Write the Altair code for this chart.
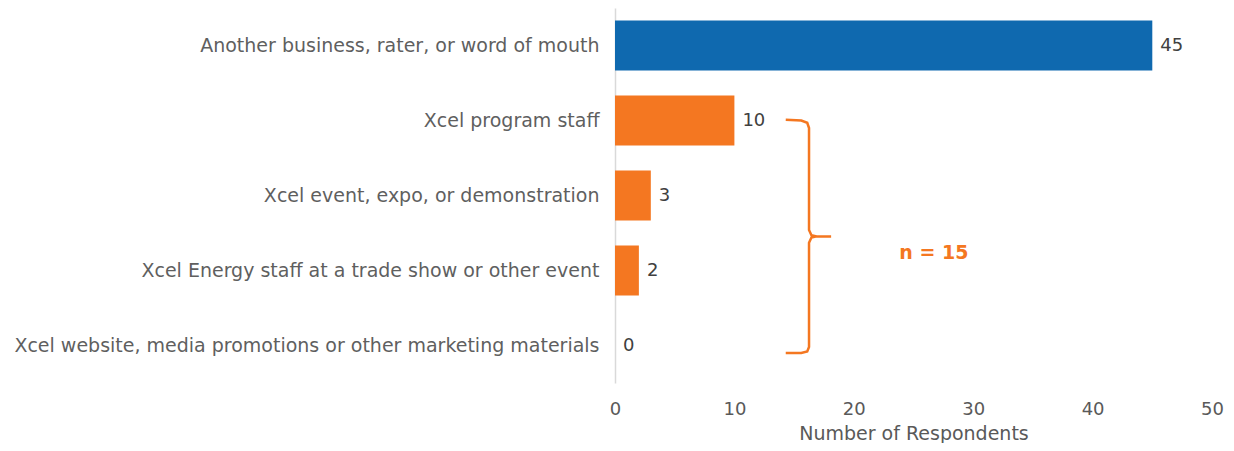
import altair as alt
import pandas as pd

categories = [
    "Another business, rater, or word of mouth",
    "Xcel program staff",
    "Xcel event, expo, or demonstration",
    "Xcel Energy staff at a trade show or other event",
    "Xcel website, media promotions or other marketing materials",
]
values = [45, 10, 3, 2, 0]
groups = ["other", "xcel", "xcel", "xcel", "xcel"]

# bracket annotation path (x in respondents, y in category rank units)
brace_x = [14.3, 15.6, 16.1, 16.25, 16.25, 16.45, 16.9, 18.1, 16.9, 16.45, 16.25, 16.25, 16.1, 15.6, 14.3]
brace_y = [1.99, 2.0, 2.03, 2.1, 3.46, 3.53, 3.545, 3.545, 3.545, 3.56, 3.63, 5.02, 5.08, 5.1, 5.1]
note_text = ["n = 15"]
note_x = [26.7]
note_y = [3.76]

BLUE = "#0F69AF"
ORANGE = "#F47721"
FONT = "DejaVu Sans"

df = pd.DataFrame({"cat": categories, "val": values, "grp": groups})
brace = pd.DataFrame({"x": brace_x, "y": brace_y, "o": list(range(len(brace_x)))})
note = pd.DataFrame({"t": note_text, "x": note_x, "y": note_y})

xscale = alt.Scale(domain=[0, 50], nice=False)
yband = alt.Scale(paddingInner=1/3, paddingOuter=1/6)

bars = alt.Chart(df).mark_bar().encode(
    x=alt.X("val:Q", scale=xscale,
            axis=alt.Axis(values=[0, 10, 20, 30, 40, 50], title="Number of Respondents",
                          domain=False, ticks=False, grid=False, labelPadding=17,
                          labelFlush=False,
                          labelFontSize=18, labelColor="#595959", labelFont=FONT,
                          titleFontSize=19, titleColor="#595959", titleFont=FONT,
                          titleFontWeight="normal", titlePadding=6)),
    y=alt.Y("cat:N", sort=categories, scale=yband, title=None,
            axis=alt.Axis(domain=True, domainColor="#D9D9D9", domainWidth=1.5, ticks=False,
                          labelPadding=16, labelFontSize=19, labelColor="#5F5F5F",
                          labelFont=FONT, labelLimit=800)),
    color=alt.Color("grp:N", scale=alt.Scale(domain=["other", "xcel"], range=[BLUE, ORANGE]),
                    legend=None),
)

labels = alt.Chart(df).mark_text(align="left", dx=8, fontSize=18, color="#404040", font=FONT).encode(
    x=alt.X("val:Q", scale=xscale),
    y=alt.Y("cat:N", sort=categories, scale=yband),
    text="val:Q",
)

yrank = alt.Scale(domain=[0.5, 5.5], reverse=True, nice=False, zero=False)

brace_line = alt.Chart(brace).mark_line(color=ORANGE, strokeWidth=2.5, interpolate="linear").encode(
    x=alt.X("x:Q", scale=xscale),
    y=alt.Y("y:Q", scale=yrank, axis=None),
    order="o:Q",
)

note_mark = alt.Chart(note).mark_text(fontSize=19, fontWeight="bold", color=ORANGE, font=FONT).encode(
    x=alt.X("x:Q", scale=xscale),
    y=alt.Y("y:Q", scale=yrank, axis=None),
    text="t:N",
)

bar_layer = alt.layer(bars, labels)
ann_layer = alt.layer(brace_line, note_mark)

chart = alt.layer(bar_layer, ann_layer).resolve_scale(y="independent").properties(
    width=597, height=375,
    autosize=alt.AutoSizeParams(type="none"),
    padding={"left": 607, "top": 0, "right": 14, "bottom": 60},
).configure(font=FONT).configure_view(strokeWidth=0, stroke=None)

chart.save("out.html", embed_options={"renderer": "svg", "actions": False})
